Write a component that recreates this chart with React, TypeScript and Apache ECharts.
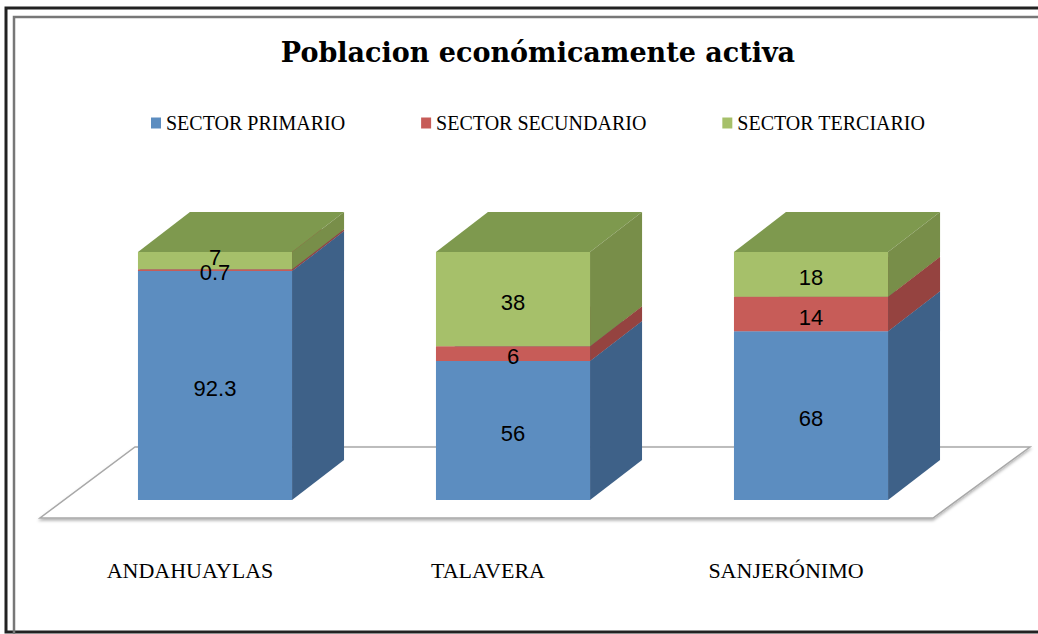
import React, { useEffect, useRef } from "react";
import * as echarts from "echarts";

const categories = ["ANDAHUAYLAS", "TALAVERA", "SANJERÓNIMO"];
const seriesNames = ["SECTOR PRIMARIO", "SECTOR SECUNDARIO", "SECTOR TERCIARIO"];
const primario = [92.3, 56, 68];
const secundario = [0.7, 6, 14];
const terciario = [7, 38, 18];
const titleText = "Poblacion económicamente activa";

const faceColors = [
  { front: "#5C8DC0", side: "#3E6188", top: "#4F78A6" },
  { front: "#C75C58", side: "#954340", top: "#A84B47" },
  { front: "#A6C06A", side: "#788E49", top: "#7E994E" },
];

const DX = 52;
const DY = -40;

export default function App() {
  const ref = useRef<HTMLDivElement>(null);
  useEffect(() => {
    if (!ref.current) return;
    const chart = echarts.init(ref.current, undefined, { renderer: "svg" });
    const all = [primario, secundario, terciario];
    const series = all.map((vals, si) => {
      const data = vals.map((v, ci) => {
        let base = 0;
        for (let k = 0; k < si; k++) base += all[k][ci];
        return [ci, base, v];
      });
      const fc = faceColors[si];
      return {
        type: "custom",
        name: seriesNames[si],
        z: 3,
        itemStyle: { color: fc.front },
        data,
        renderItem: (params: any, api: any) => {
          const ci = api.value(0);
          const base = api.value(1);
          const v = api.value(2);
          const bw = api.size([1, 0])[0] * 0.517;
          const pb = api.coord([ci, base]);
          const pt = api.coord([ci, base + v]);
          const L = pb[0] - bw / 2;
          const R = pb[0] + bw / 2;
          const yb = pb[1];
          const yt = pt[1];
          return {
            type: "group",
            children: [
              {
                type: "polygon",
                shape: { points: [[L, yt], [R, yt], [R + DX, yt + DY], [L + DX, yt + DY]] },
                style: { fill: fc.top },
              },
              {
                type: "polygon",
                shape: { points: [[R, yb], [R, yt], [R + DX, yt + DY], [R + DX, yb + DY]] },
                style: { fill: fc.side },
              },
              {
                type: "rect",
                shape: { x: L, y: yt, width: bw, height: yb - yt },
                style: { fill: fc.front },
              },
              {
                type: "text",
                z2: 10,
                style: {
                  text: String(v),
                  x: pb[0],
                  y: (yb + yt) / 2 + (si === 2 && v < 10 ? -3 : si === 1 && v < 2 ? 2 : 3),
                  align: "center",
                  verticalAlign: "middle",
                  fill: "#000",
                  fontSize: 22,
                  fontFamily: "Liberation Sans",
                },
              },
            ],
          };
        },
      };
    });

    chart.setOption({
      animation: false,
      backgroundColor: "#ffffff",
      legend: {
        left: 146,
        top: 108,
        itemWidth: 10,
        itemHeight: 11,
        itemGap: 76,
        icon: "rect",
        data: seriesNames,
        textStyle: { fontFamily: "Liberation Serif", fontSize: 20, color: "#000" },
      },
      grid: { left: 66, right: 78, top: 252, bottom: 134 },
      xAxis: {
        type: "category",
        data: categories,
        axisLine: { show: false },
        axisTick: { show: false },
        splitLine: { show: false },
        axisLabel: {
          margin: 59,
          padding: [0, 50, 0, 0],
          fontFamily: "Liberation Serif",
          fontSize: 22,
          color: "#000",
        },
      },
      yAxis: { type: "value", min: 0, max: 100, show: false },
      graphic: [
        {
          type: "rect",
          z: 0,
          shape: { x: 6, y: 8, width: 1100, height: 624 },
          style: { fill: "none", stroke: "#222", lineWidth: 3 },
        },
        {
          type: "rect",
          z: 0,
          shape: { x: 14, y: 17, width: 1100, height: 700 },
          style: { fill: "none", stroke: "#777", lineWidth: 2.5 },
        },
        {
          type: "polygon",
          z: 0,
          shape: { points: [[40, 518], [933, 518], [1030, 447], [135, 447]] },
          style: {
            fill: "#fff",
            stroke: "#a8a8a8",
            lineWidth: 1.5,
            shadowBlur: 3,
            shadowOffsetY: 2,
            shadowColor: "rgba(0,0,0,0.3)",
          },
        },
        {
          type: "text",
          z: 5,
          style: {
            text: titleText,
            x: 538,
            y: 52,
            align: "center",
            verticalAlign: "middle",
            fontFamily: "DejaVu Serif",
            fontWeight: "bold",
            fontSize: 27,
            fill: "#000",
          },
        },
      ],
      series,
    });
    return () => chart.dispose();
  }, []);
  return (
    <div
      ref={ref}
      style={{ position: "absolute", left: 0, top: 0, width: 1038, height: 634 }}
    />
  );
}
